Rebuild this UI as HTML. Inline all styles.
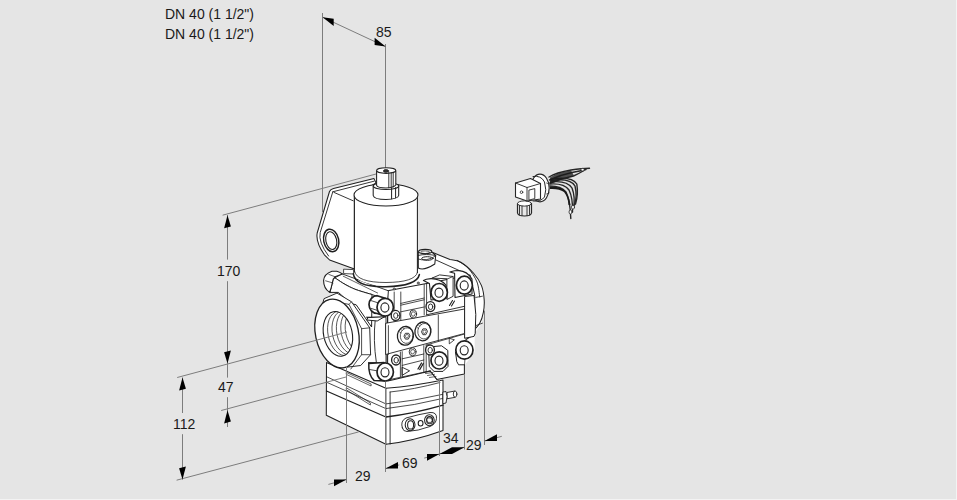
<!DOCTYPE html>
<html><head><meta charset="utf-8">
<style>
html,body{margin:0;padding:0;width:957px;height:500px;overflow:hidden;background:#f3f3f3;}
#bg{position:absolute;left:0;top:0;width:956px;height:499px;background:#e5e5e5;}
.t{position:absolute;font-family:"Liberation Sans",sans-serif;font-size:14px;color:#1a1a1a;white-space:nowrap;line-height:16px;}
svg{position:absolute;left:0;top:0;}
</style></head><body>
<div id="bg"></div>
<div class="t" style="left:165px;top:6px">DN 40 (1 1/2")</div>
<div class="t" style="left:165px;top:26px">DN 40 (1 1/2")</div>
<svg width="957" height="500" viewBox="0 0 957 500">
<g id="dims" stroke="#7d7d7d" stroke-width="1" fill="none">
  <line x1="322.5" y1="13" x2="322.5" y2="212"/>
  <line x1="385.5" y1="44" x2="385.5" y2="168"/>
  <line x1="322.5" y1="17.2" x2="385.5" y2="46.6"/>
  <line x1="222.6" y1="215.2" x2="376" y2="174"/>
  <line x1="227.5" y1="215" x2="227.5" y2="259.6"/>
  <line x1="227.5" y1="281.2" x2="227.5" y2="377.6"/>
  <line x1="227.5" y1="397.2" x2="227.5" y2="427"/>
  <line x1="182.5" y1="377.5" x2="182.5" y2="413"/>
  <line x1="182.5" y1="434.2" x2="182.5" y2="479.6"/>
  <line x1="328.4" y1="484.4" x2="346.5" y2="479.5"/>
  <line x1="385.5" y1="468.6" x2="399.3" y2="464.9"/>
  <line x1="424.2" y1="458.1" x2="464.5" y2="447.2"/>
  <line x1="484.5" y1="441.1" x2="501.8" y2="436.3"/>
</g>
<g id="valve" stroke="#202020" stroke-width="1.05" fill="#fff" stroke-linejoin="round" stroke-linecap="round">

<path d="M326.5,362.5 L340,350 L443,350 L443,380 L443,430.5 Q414,441 385.9,444.3 L326.3,415.2 Z" stroke="none"/>
<path d="M326.5,362.5 L385.9,388.3 Q414,386 443,380 L443,430.5 Q414,441 385.9,444.3 L326.3,415.2 Z" fill="none"/>
<path d="M385.9,388.3 L385.9,444.3 M390.1,392 L390.1,444" fill="none" stroke-width="0.9"/>
<path d="M390.1,392 Q414,389.5 440,382.5" fill="none" stroke-width="0.8"/>
<path d="M326.5,376.7 L385.9,403.9 Q414,401 443,394.3 M326.5,382.2 L385.9,408.6 Q414,405.5 443,398.4" fill="none" stroke-width="0.8"/>
<path d="M326.5,391 L385.9,417 Q414,413.5 443,405.1" fill="none" stroke-width="1.3"/>
<path d="M346.6,372.5 L371.1,384 L371.1,386 L346.6,374.5 Z M346.6,387.9 L370.4,403 L370.4,405 L346.6,390 Z" fill="none" stroke-width="0.7"/>
<path d="M402.4,428 Q400,421 406,418 Q420,414 430,412.5 Q437,412 436.5,418.4 Q436,424 430,426.5 Q418,431 407,431.5 Q403,431.5 402.4,428 Z" stroke-width="0.9"/>
<ellipse cx="410.1" cy="424.7" rx="4.9" ry="6"/>
<ellipse cx="410.6" cy="424.9" rx="3" ry="4.2"/>
<ellipse cx="420.6" cy="423.3" rx="2.4" ry="2.7"/>
<ellipse cx="429.4" cy="420.2" rx="4.8" ry="5.5"/>
<ellipse cx="429.6" cy="420.2" rx="3" ry="3.6"/>
<path d="M428,418 L431,418 L432.2,420.2 L431,422.4 L428,422.4 L426.8,420.2 Z" fill="none" stroke-width="0.7"/>
<path d="M447.4,392.4 L455.1,391 L455.1,397.3 L447.4,398.7 Z" stroke-width="0.9"/>
<ellipse cx="455.1" cy="394.1" rx="1.8" ry="3.1" stroke-width="0.9"/>
<path d="M443.2,392 L446,391.5 Q448,396 446,403 L443.2,403.6 Z" stroke-width="0.9"/>
<path d="M342,274 L354,270 L417,272 L419,268 L433.4,252.8 L458,263 Q478,272 484,292 Q487,312 480,326 L474.7,333 L474.7,352 L464.4,365.6 L464.4,374 L439.2,379.4 L422.4,372.2 L395,381 L371.6,380.2 L355,369 L345,300 Z" stroke="none"/>
<path d="M333.5,188.6 L374,178.6 L376,183 L354.4,196 L354.4,269 L329.6,260 L324.4,254.8 Q315.5,242 317.2,233 L329.5,191.5 Q330.5,189.3 333.5,188.6 Z"/>
<path d="M332.8,191.8 L374,181.2 M332.8,191.8 L320.2,232.6 Q318,242 328.6,256" fill="none" stroke-width="0.9"/>
<path d="M334,192.4 L353.2,200.8" fill="none" stroke-width="0.9"/>
<g transform="rotate(-12 331.2 240.4)">
<ellipse cx="331.2" cy="240.4" rx="7.5" ry="11.4" stroke-width="1.5"/>
<ellipse cx="331.2" cy="240.6" rx="5.4" ry="9" stroke-width="1.1"/>
</g>

<path d="M433.4,252.8 L450,259.5  C451.8,259.9 456.9,259.9 460.8,262.2 C464.7,264.4 469.9,269.1 473.4,273.0 C476.8,276.9 479.7,281.1 481.5,285.6 C483.3,290.1 483.9,295.5 484.2,300.0 C484.5,304.5 484.1,308.7 483.3,312.6 C482.6,316.5 481.4,320.3 479.7,323.3 C478.0,326.3 475.3,328.7 473.4,330.5 C471.4,332.3 468.9,333.4 468.0,334.0 L430,345 L418,300 L419,268 Z" stroke="none"/>
<path d="M433.4,252.8 L450,259.5  C451.8,259.9 456.9,259.9 460.8,262.2 C464.7,264.4 469.9,269.1 473.4,273.0 C476.8,276.9 479.7,281.1 481.5,285.6 C483.3,290.1 483.9,295.5 484.2,300.0 C484.5,304.5 484.1,308.7 483.3,312.6 C482.6,316.5 481.4,320.3 479.7,323.3 C478.0,326.3 475.3,328.7 473.4,330.5 C471.4,332.3 468.9,333.4 468.0,334.0" fill="none"/>
<path d="M434.6,259.4 L465.2,273.2" fill="none" stroke-width="0.9"/>
<path d="M457.2,260.4 C459.0,261.7 464.7,264.4 468.0,268.0 C471.3,271.6 475.1,277.2 477.0,282.0 C478.9,286.8 479.2,294.5 479.7,297.0" fill="none" stroke-width="0.9"/>
<path d="M475.8,297.4 L482.4,296.2 M475.8,325.6 L482.4,323.2" fill="none" stroke-width="0.8"/>
<path d="M418.3,252 L418.3,268 Q424,271 434.8,264 L435.7,255.5 L431.8,252 Z"/>
<ellipse cx="425.2" cy="251.6" rx="6.6" ry="2.2" stroke-width="1.1"/>
<ellipse cx="425.2" cy="252.2" rx="4.6" ry="1.3" fill="none" stroke-width="0.7"/>
<path d="M418.3,255.4 Q426,253.5 435.7,255.5" fill="none" stroke-width="0.9"/>
<ellipse cx="427.4" cy="258.5" rx="5.7" ry="1.8" stroke-width="1"/>
<path d="M418,259 Q426,262 435.7,256" fill="none" stroke-width="0.8"/>

<path d="M387.6,290.8 L426.6,283.6 L470,275 L474.7,295 L474.7,334 L466,339.5 L464.4,365.6 L464.4,374 L436.8,379.4 L430.2,371 L393.4,379.7 L387.6,381 Z"/>
<path d="M423.5,372.6 L430.2,371 L436.8,379.4 M425.5,373.5 L433,372.5 M427.5,375.5 L434.5,374.3 M429.5,377.5 L436,376.5" fill="none" stroke-width="0.7"/>
<path d="M387.6,290.8 L387.6,325" fill="none" stroke-width="0.9"/>
<path d="M394.2,292 L394.2,322 M400.8,292 L400.8,321.4 M424.2,284.5 L424.2,314.8 M426.6,284 L426.6,314.8" fill="none" stroke-width="0.8"/>
<path d="M400.8,303.4 L424.2,298 M400.8,305.2 L424.2,299.8 M400.8,311.8 L424.2,307" fill="none" stroke-width="0.8"/>
<circle cx="394.2" cy="289" r="1" stroke-width="0.8"/>
<circle cx="418.2" cy="283" r="1" stroke-width="0.8"/>
<path d="M432.2,278 L439.6,274.9 L453.1,276.5 L453.1,296.3 L446.9,299.5 L446.9,279.1 Z" stroke-width="0.9"/><path d="M446.9,279.1 L453.1,276.5" fill="none" stroke-width="0.8"/>
<path d="M426.6,314.8 L474.7,304" fill="none" stroke-width="0.9"/>
<path d="M465,296.4 L474,295.5 Q477,314.4 475.2,333.4 L474,336.4 L465,338.2 Z" stroke-width="1"/>
<path d="M386,354.5 L386,380.4 M400.4,352 L400.4,377 M402.2,351.6 L402.2,377 M423.8,345.6 L423.8,372 M426.2,345 L426.2,371.5" fill="none" stroke-width="0.8"/>
<path d="M402.2,358.8 L423.8,354 M402.2,365.4 L423.8,360" fill="none" stroke-width="0.8"/>
<path d="M426.2,345 L464.5,334 M386,380.4 L430.4,370.8" fill="none" stroke-width="0.8"/>
<path d="M449.5,305.5 L452.5,300.5 M451.5,306 L454.5,301" fill="none" stroke-width="1.1"/>
<path d="M418,369 L421.5,363 M419.8,369.5 L423.3,363.5" fill="none" stroke-width="1.3"/>
<path d="M402.4,367.4 L409.6,370.8 L402.4,375.2 Z" fill="none" stroke-width="0.9"/>
<path d="M449.6,338.4 L454.4,339.8 L449.6,343.6 Z" fill="none" stroke-width="0.8"/>

<path d="M342.4,274 L388.4,290.8 L387.6,300 L372,294.5  C371.0,294.2 368.7,293.6 366.0,292.8 C363.3,292.0 358.7,290.6 356.0,289.6 C353.3,288.6 351.9,287.9 349.6,286.8 C347.3,285.7 344.8,284.3 342.4,282.8 C340.0,281.3 336.4,278.8 335.2,278.0 Z" stroke-width="0.9"/>
<path d="M343.2,276.2 L377.6,293" fill="none" stroke-width="0.7"/>
<path d="M335.2,278  C336.4,278.8 340.0,281.3 342.4,282.8 C344.8,284.3 347.3,285.7 349.6,286.8 C351.9,287.9 353.3,288.6 356.0,289.6 C358.7,290.6 363.3,292.0 366.0,292.8 C368.7,293.6 371.0,294.2 372.0,294.5 L371.6,327 L356.2,304.8 L350.6,303.4 L338.4,292.4 L330,292.4 L331.2,287.6 L333.2,279.2 Z" stroke-width="1"/>
<path d="M329.6,292.4 Q323.5,288 323.6,280.4 Q324,274 332,271.2 L336.8,271.2 Q340,272 342.4,274 L335.2,276.8 L333.2,279.2 L331.2,287.6 Z" stroke-width="1.1"/>
<path d="M328.8,274.4 L335.2,276.8 M325.6,280.8 L333,283" fill="none" stroke-width="0.7"/>
<path d="M344,269.2 L353.6,269.6 L353.6,274 L344,273.6 Z" stroke-width="0.8"/>
<path d="M366.8,317.2 L386,317.2 L386,362.8 L368,362.8 L376.4,362.8 Q373,340 375.2,320.2 Z" stroke-width="0.9"/>

<path d="M386,323.2 L464.5,309 L464.5,333.5 L386,354.4 Z" stroke-width="0.9"/>
<path d="M388.4,325.6 L388.4,354.4 M438.3,315 L438.3,341" fill="none" stroke-width="0.8"/>
<ellipse cx="405.4" cy="335.8" rx="8" ry="9.4" stroke-width="1.3" transform="rotate(8 405.4 335.8)"/><ellipse cx="406.7" cy="335.6" rx="6.4" ry="7.8" fill="none" stroke-width="0.7" transform="rotate(8 406.7 335.6)"/><path d="M399.4,331.8 L400.9,332.8 M400.9,329.3 L402.2,330.6 M402.9,327.8 L403.8,329.2" fill="none" stroke-width="0.6"/><path d="M409.8,336.2 L408.3,339.1 L405.4,339.1 L404.0,336.2 L405.4,333.3 L408.3,333.3 Z" stroke-width="0.9"/><path d="M408.4,336.2 L407.6,337.8 L406.1,337.8 L405.4,336.2 L406.1,334.6 L407.6,334.6 Z" fill="none" stroke-width="0.6"/><ellipse cx="422.9" cy="331.4" rx="8" ry="9.4" stroke-width="1.3" transform="rotate(8 422.9 331.4)"/><ellipse cx="424.2" cy="331.2" rx="6.4" ry="7.8" fill="none" stroke-width="0.7" transform="rotate(8 424.2 331.2)"/><path d="M416.9,327.4 L418.4,328.4 M418.4,324.9 L419.7,326.2 M420.4,323.4 L421.3,324.8" fill="none" stroke-width="0.6"/><path d="M427.3,331.8 L425.8,334.7 L422.9,334.7 L421.5,331.8 L422.9,328.9 L425.8,328.9 Z" stroke-width="0.9"/><path d="M425.9,331.8 L425.1,333.4 L423.6,333.4 L422.9,331.8 L423.6,330.2 L425.1,330.2 Z" fill="none" stroke-width="0.6"/>
<ellipse cx="413.2" cy="314" rx="3.4" ry="4" stroke-width="0.9"/><path d='M415.2,314.0 L414.2,316.1 L412.2,316.1 L411.2,314.0 L412.2,311.9 L414.2,311.9 Z' fill="none" stroke-width="0.7"/>
<ellipse cx="412.6" cy="351.8" rx="3.4" ry="4" stroke-width="0.9"/><path d='M414.6,351.8 L413.6,353.9 L411.6,353.9 L410.6,351.8 L411.6,349.7 L413.6,349.7 Z' fill="none" stroke-width="0.7"/>

<path d="M354.4,195 L354.4,271.7 Q354,284 386,286 Q418,285 417.4,272.5 L417.4,195 Z" stroke="none"/>
<path d="M354.4,195 L354.4,272 M417.4,195 L417.4,272.5" fill="none"/>
<path d="M353.3,273.7 Q355,287.5 386,286.7 Q417,286 419.4,274.5" fill="none" stroke-width="1.5"/>
<path d="M354.6,271.5 Q357,282.5 386,282.5 Q415,282.3 417.4,272.5" fill="none" stroke-width="0.8"/>
<ellipse cx="386" cy="195" rx="32" ry="11"/>
<path d="M373.2,186 L373.2,195.5 Q374,199.5 386,199.5 Q398,199 398.7,195.5 L398.7,186 Z"/>
<ellipse cx="386" cy="186" rx="12.75" ry="3.6"/>
<path d="M391.6,188 L391.6,198.8 M395.6,187.6 L395.6,197.8" fill="none" stroke-width="1"/>
<path d="M376.6,171 L376.6,185.5 Q378,188 386,188 Q394,187.5 395.8,185 L395.8,171 Z"/>
<ellipse cx="386.2" cy="170.6" rx="9.6" ry="2.8"/>
<path d="M388.8,172.2 L388.8,187.8 M391.2,172.5 L391.2,187.5 M393.2,172.2 L393.2,187" fill="none" stroke-width="0.9"/>
<ellipse cx="386" cy="171" rx="2.6" ry="1.4" fill="#333" stroke-width="0.8"/>

<path d="M324.4,298.5 L337,293.1 L351.5,301.8 L369.7,327.8 L370.6,354.7 L360.7,365.5 L340,368 L330,330 L322.8,304 Z" stroke-width="0.95"/>
<path d="M328,300.3 L349,304.4 L361.6,328.7 L361.6,354.7 L350.8,369 M351.5,301.8 L349,304.4 M369.7,327.8 L361.6,328.7 M370.6,354.7 L361.6,354.7" fill="none" stroke-width="0.8"/>
<ellipse cx="337" cy="333.5" rx="21.5" ry="34.8" stroke-width="1.3" transform="rotate(-12 337 333.5)"/>
<clipPath id="hole"><ellipse cx="337.9" cy="333.9" rx="14.3" ry="22.6" transform="rotate(-12 337.9 333.9)"/></clipPath>
<ellipse cx="337.9" cy="333.9" rx="14.3" ry="22.6" transform="rotate(-12 337.9 333.9)" stroke-width="1.1"/>
<g clip-path="url(#hole)" fill="none" stroke-width="0.7"><ellipse cx="342.3" cy="333.3" rx="14.3" ry="22.6" transform="rotate(-12 342.3 333.3)"/><ellipse cx="346.7" cy="332.7" rx="14.3" ry="22.6" transform="rotate(-12 346.7 332.7)"/><ellipse cx="351.1" cy="332.1" rx="14.3" ry="22.6" transform="rotate(-12 351.1 332.1)"/><ellipse cx="355.5" cy="331.5" rx="14.3" ry="22.6" transform="rotate(-12 355.5 331.5)"/><ellipse cx="359.9" cy="330.9" rx="14.3" ry="22.6" transform="rotate(-12 359.9 330.9)"/></g>
<path d="M368.4,317.6 L384.4,316.8 L377.2,321 L367,320 Z" stroke-width="1"/>
<path d="M385.2,298.3 L377.2,295.7 A8.2,8.9 0 0 0 377.2,313.5 L385.2,316.1 Z" stroke-width="1.70"/><path d="M371.1,300.6 L379.1,303.2 M370.6,308.2 L378.6,310.8" fill="none" stroke-width="0.8"/><ellipse cx="385.2" cy="307.2" rx="8.2" ry="8.9" stroke-width="1.70" fill="#fff"/><ellipse cx="384.9" cy="307.5" rx="4.0" ry="4.6" stroke-width="1.10" fill="#fff"/>
<path d="M423.4,280.4 L426.4,279.2 L431,278.6 Q440,278.5 446,285 L447,298 L431,300 L429.4,283.4 Z" stroke-width="1.1"/><ellipse cx="439.2" cy="292.4" rx="8.2" ry="8.9" stroke-width="1.70" fill="#fff"/><ellipse cx="439.0" cy="292.7" rx="4.0" ry="4.6" stroke-width="1.10" fill="#fff"/>
<path d="M449.8,272 L454.6,270.8 L459,270.6 Q467,271 472,279 L472,294 L455,297.5 L454.6,273.2 Z" stroke-width="1.1"/><ellipse cx="464.4" cy="285.2" rx="8.0" ry="9.0" stroke-width="1.70" fill="#fff"/><ellipse cx="464.2" cy="285.5" rx="4.0" ry="4.6" stroke-width="1.10" fill="#fff"/>
<path d="M368.8,363.6 L384,362.6 L386,381 L374,380.4 Q368.2,375 368.8,363.6 Z" stroke-width="1.5"/><path d="M369.5,369.5 L378,371" fill="none" stroke-width="0.8"/>
<ellipse cx="385.2" cy="372.0" rx="8.2" ry="9.0" stroke-width="1.70" fill="#fff"/><ellipse cx="385.0" cy="372.3" rx="4.0" ry="4.6" stroke-width="1.10" fill="#fff"/>
<path d="M429,352 L434,346.5 L441.6,345.8 L447.8,350.4 L448,366.4 L443,371.4 L434,371.4 L429.6,367 Z" stroke-width="1"/>
<ellipse cx="439.2" cy="360.4" rx="8.2" ry="8.6" stroke-width="1.70" fill="#fff"/><ellipse cx="439.0" cy="360.7" rx="4.0" ry="4.6" stroke-width="1.10" fill="#fff"/>
<path d="M455.5,352 L456.8,361.6 L458.6,364.8 L464.4,364.8 L464.4,352 Z" stroke="none"/><path d="M455.5,352 L456.8,361.6 L458.6,364.8 L464.4,364.8" fill="none" stroke-width="1"/>
<ellipse cx="464.4" cy="350.0" rx="8.6" ry="9.2" stroke-width="1.70" fill="#fff"/><ellipse cx="464.2" cy="350.3" rx="4.0" ry="4.6" stroke-width="1.10" fill="#fff"/>
<ellipse cx="396.0" cy="360.0" rx="4.4" ry="5.0" stroke-width="1.35" fill="#fff"/><ellipse cx="396.2" cy="360.2" rx="2.2" ry="2.8" stroke-width="0.90" fill="#fff"/>
<ellipse cx="430.0" cy="350.0" rx="4.4" ry="5.0" stroke-width="1.35" fill="#fff"/><ellipse cx="430.2" cy="350.2" rx="2.2" ry="2.8" stroke-width="0.90" fill="#fff"/>
<ellipse cx="395.6" cy="315.4" rx="4.4" ry="5.0" stroke-width="1.35" fill="#fff"/><ellipse cx="395.8" cy="315.6" rx="2.2" ry="2.8" stroke-width="0.90" fill="#fff"/>
<ellipse cx="430.4" cy="306.6" rx="4.4" ry="5.0" stroke-width="1.35" fill="#fff"/><ellipse cx="430.6" cy="306.8" rx="2.2" ry="2.8" stroke-width="0.90" fill="#fff"/>
</g>
<g id="acc" stroke="#262626" stroke-width="1" fill="#fff" stroke-linejoin="round" stroke-linecap="round">
<!-- wires up -->
<g fill="none" stroke-width="1.4">
<path d="M549,177 Q556,172.5 571,170 Q582,168.5 589.5,168.3"/>
<path d="M549.5,180 Q560,175 572,172.5 Q580,171 586,169.5"/>
<path d="M550,183 Q562,178.5 573.5,176 Q579,173.5 584,170.5"/>
<path d="M550,186 Q561,186 566,192 Q570,199 570.8,218.5"/>
<path d="M550,184 Q564,183 569,190 Q573,198 572.5,212"/>
<path d="M550.5,182 Q567,180 572,188 Q575.5,197 573.5,208"/>
<path d="M551,180.5 Q570,177.5 575,186 Q577.5,196 574.5,205"/>
<path d="M552,179 Q572,176 576.8,184 Q578.5,194 575.5,204"/>
</g>
<path d="M550,177.5 Q558,172 571,170.5 L574,175.5 Q561,179 550,184 Z" fill="#1a1a1a" stroke="none" opacity="0.75"/>
<path d="M550,186.5 Q562,186 566.5,192.5 Q570,199 570.5,205 L568.5,205 Q568,197 564,192 Q559,188.5 550,189 Z" fill="#1a1a1a" stroke="none"/>
<ellipse cx="582.7" cy="169.7" rx="1.8" ry="1.3" stroke-width="0.8"/>
<ellipse cx="573" cy="207.2" rx="1.5" ry="2" stroke-width="0.8"/>
<ellipse cx="570.5" cy="212" rx="1.5" ry="2" stroke-width="0.8"/>
<!-- nut -->
<ellipse cx="540" cy="188" rx="9.2" ry="13.8" stroke-width="1.2"/>
<path d="M533,176.5 Q541,175 544.5,182 Q547,190 544.5,197 Q541,202 533,201" fill="none" stroke-width="1"/>
<path d="M546.5,183 L549,184 M546.5,194 L549,193" fill="none" stroke-width="0.7"/>
<!-- gland -->
<path d="M517.5,203.5 L517.5,213 Q518,216 524.5,216 Q531,216 531.5,213 L531.5,203.5 Z" stroke-width="1.2" fill="#e8e8e8"/>
<ellipse cx="524.5" cy="203.5" rx="7" ry="2.6" stroke-width="0.9"/>
<path d="M519.5,205.5 L519.5,214.5 M522,206 L522,215.5 M527,206 L527,215.5 M529.5,205.5 L529.5,214.5" fill="none" stroke-width="0.9"/>
<!-- box -->
<path d="M515.5,183 L530.5,178.5 L540.5,183.5 L540.5,199 L527,201 L515.5,197 Z" stroke-width="1.1"/>
<path d="M515.5,183 L527,187.5 L540.5,183.5 M527,187.5 L527,201" fill="none" stroke-width="0.9"/>
<path d="M529.3,190 L534.8,188.6 L534.8,198.6 L529.3,200 Z" stroke-width="0.9"/>
<circle cx="521.5" cy="192.2" r="1.3" stroke-width="0.8"/>
</g>

<g id="dims2" stroke="#7d7d7d" stroke-width="1" fill="none">
  <line x1="177.2" y1="377.5" x2="347" y2="332"/>
  <line x1="221.2" y1="410.5" x2="346" y2="377"/>
  <line x1="176.6" y1="480.2" x2="358.7" y2="431.9"/>
  <line x1="346.5" y1="366" x2="346.5" y2="483"/>
  <line x1="385.5" y1="381.5" x2="385.5" y2="472"/>
  <line x1="439.5" y1="379.5" x2="439.5" y2="456"/>
  <line x1="464.5" y1="374" x2="464.5" y2="449.5"/>
  <line x1="484.5" y1="310.6" x2="484.5" y2="445"/>
</g>

<g id="arrows" fill="#000" stroke="none">
<polygon points="322.6,17.2 333.7,26.1 333.7,18.7"/>
<polygon points="385.6,46.6 374.6,45.1 374.6,37.7"/>
<polygon points="227.5,215.2 230.9,226.5 224.1,228.3"/>
<polygon points="227.5,363.6 230.9,350.5 224.1,352.3"/>
<polygon points="227.5,410.3 230.9,421.6 224.1,423.4"/>
<polygon points="182.5,377.4 185.9,388.7 179.1,390.5"/>
<polygon points="182.5,479.6 185.9,466.5 179.1,468.3"/>
<polygon points="346.5,479.5 334.0,486.2 334.0,479.5"/>
<polygon points="385.5,468.6 398.0,468.6 398.0,461.9"/>
<polygon points="439.5,454.0 427.0,460.7 427.0,454.0"/>
<polygon points="439.5,454.0 452.0,453.9 452.0,447.2"/>
<polygon points="464.5,447.2 452.0,454.0 452.0,447.3"/>
<polygon points="484.5,441.1 497.0,441.0 497.0,434.3"/>
</g>
</svg>
<div class="t" style="left:376px;top:24px">85</div>
<div class="t" style="left:217px;top:263px">170</div>
<div class="t" style="left:218px;top:379px">47</div>
<div class="t" style="left:173px;top:416px">112</div>
<div class="t" style="left:355px;top:468px">29</div>
<div class="t" style="left:402px;top:455px">69</div>
<div class="t" style="left:443px;top:430px">34</div>
<div class="t" style="left:466px;top:437px">29</div>
</body></html>
